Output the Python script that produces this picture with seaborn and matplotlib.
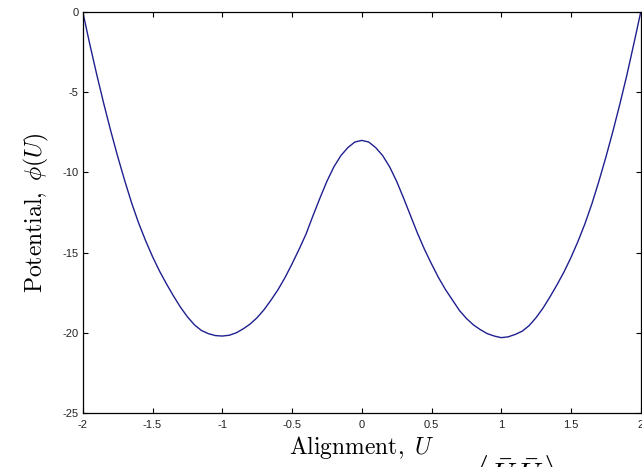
import numpy as np
import pandas as pd
import matplotlib
matplotlib.use("Agg")
import matplotlib.pyplot as plt
import seaborn as sns

# Alignment U values
alignment = [
    -2.00, -1.95, -1.90, -1.85, -1.80, -1.75, -1.70, -1.65, -1.60, -1.55,
    -1.50, -1.45, -1.40, -1.35, -1.30, -1.25, -1.20, -1.15, -1.10, -1.05,
    -1.00, -0.95, -0.90, -0.85, -0.80, -0.75, -0.70, -0.65, -0.60, -0.55,
    -0.50, -0.45, -0.40, -0.35, -0.30, -0.25, -0.20, -0.15, -0.10, -0.05,
    0.00, 0.05, 0.10, 0.15, 0.20, 0.25, 0.30, 0.35, 0.40, 0.45,
    0.50, 0.55, 0.60, 0.65, 0.70, 0.75, 0.80, 0.85, 0.90, 0.95,
    1.00, 1.05, 1.10, 1.15, 1.20, 1.25, 1.30, 1.35, 1.40, 1.45,
    1.50, 1.55, 1.60, 1.65, 1.70, 1.75, 1.80, 1.85, 1.90, 1.95, 2.00,
]
# Potential phi(U) values
potential = [
    0.0, -2.0, -3.9, -5.7, -7.4, -9.0, -10.5, -11.9, -13.15, -14.25,
    -15.25, -16.15, -16.95, -17.7, -18.4, -19.0, -19.5, -19.85, -20.05, -20.17,
    -20.2, -20.15, -20.0, -19.75, -19.45, -19.05, -18.55, -17.95, -17.3, -16.55,
    -15.7, -14.8, -13.85, -12.7, -11.6, -10.55, -9.65, -8.95, -8.45, -8.1,
    -8.0, -8.1, -8.45, -8.95, -9.65, -10.55, -11.6, -12.7, -13.8, -14.8,
    -15.7, -16.55, -17.3, -17.95, -18.6, -19.1, -19.5, -19.8, -20.05, -20.2,
    -20.3, -20.25, -20.1, -19.9, -19.55, -19.05, -18.45, -17.75, -17.0, -16.2,
    -15.3, -14.3, -13.2, -11.95, -10.55, -9.05, -7.45, -5.75, -3.95, -2.0, 0.0,
]
x_ticks = [-2, -1.5, -1, -0.5, 0, 0.5, 1, 1.5, 2]
x_tick_labels = ["-2", "-1.5", "-1", "-0.5", "0", "0.5", "1", "1.5", "2"]
y_ticks = [-25, -20, -15, -10, -5, 0]
y_tick_labels = ["-25", "-20", "-15", "-10", "-5", "0"]

df = pd.DataFrame({"U": alignment, "phi": potential})

sns.set_theme(style="white")
plt.rcParams["font.family"] = ["Liberation Sans", "DejaVu Sans"]
plt.rcParams["mathtext.fontset"] = "cm"

fig = plt.figure(figsize=(6.42, 4.67), dpi=100)
ax = fig.add_axes([0.129, 0.1156, 0.869, 0.8584])

sns.lineplot(data=df, x="U", y="phi", ax=ax, color="#1f1f8f", linewidth=1.0,
             sort=False, estimator=None)

ax.set_xlim(-2, 2)
ax.set_ylim(-25, 0)
ax.set_xticks(x_ticks)
ax.set_xticklabels(x_tick_labels)
ax.set_yticks(y_ticks)
ax.set_yticklabels(y_tick_labels)

ax.tick_params(axis="both", which="major", direction="in", length=3.5, width=0.8,
               color="black", labelsize=8, labelcolor="#222222",
               top=True, right=True, bottom=True, left=True)
ax.tick_params(axis="x", pad=5)
ax.tick_params(axis="y", pad=3)

for sp in ax.spines.values():
    sp.set_visible(True)
    sp.set_color("black")
    sp.set_linewidth(0.9)

ax.set_xlabel(r"$\mathrm{Alignment,}\ U$", fontsize=17, labelpad=3, color="black")
ax.set_ylabel(r"$\mathrm{Potential,}\ \phi(U)$", fontsize=17, labelpad=8, color="black")

# partially visible text cut at the bottom of the reference image
fig.text(0.738, -0.06, r"$\langle\,\bar{U}\,\bar{U}\,\rangle$", fontsize=22,
         ha="left", va="bottom", color="black")

fig.savefig("out.png", dpi=100)
